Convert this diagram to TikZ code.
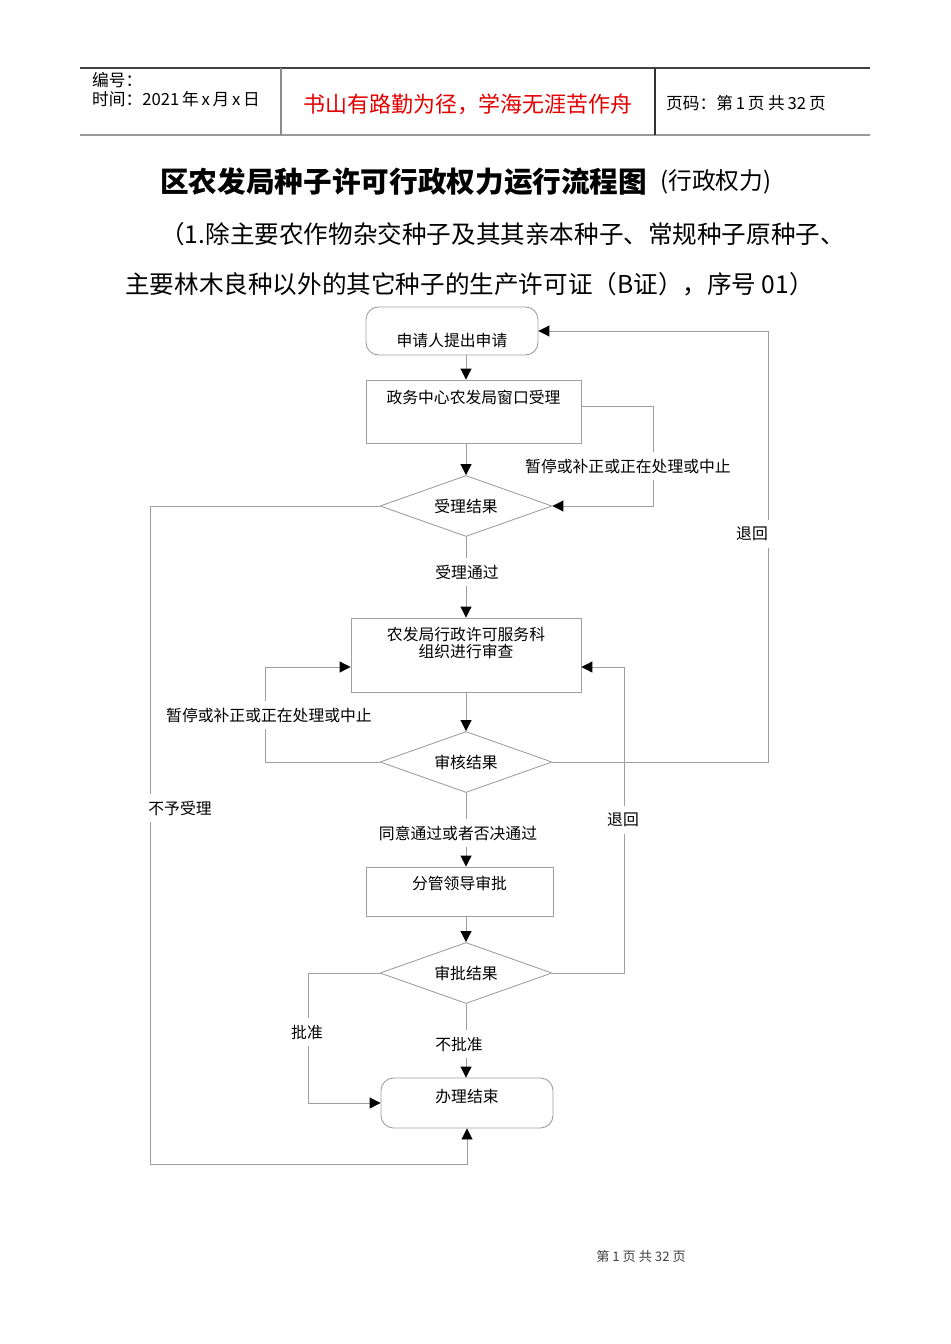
\documentclass[tikz,border=0pt]{standalone}
\usepackage{fontspec}
\setmainfont{Noto Sans CJK SC}
\usetikzlibrary{shapes.geometric,arrows.meta}
\definecolor{linegray}{gray}{0.62}
\definecolor{headred}{RGB}{228,0,0}
\tikzset{
  flow/.style={font=\fontsize{9}{10.2}\selectfont},
  head/.style={anchor=west, font=\fontsize{9.5}{11}\selectfont},
  proc/.style={draw=linegray, line width=0.5pt, inner sep=0pt},
  term/.style={proc, rounded corners=0.25cm},
  decide/.style={proc, flow, diamond, aspect=2.8, minimum width=3.44cm, minimum height=1.22cm},
  conn/.style={draw=linegray, line width=0.5pt},
  arr/.style={conn, -{Triangle[color=black,length=0.22cm,width=0.22cm]}},
  tag/.style={flow, fill=white, inner xsep=1pt, inner ysep=4pt},
}
\begin{document}
\begin{tikzpicture}[x=0.02cm, y=-0.02cm]
  \useasboundingbox (0,0) rectangle (950,1344);
  % === page header ===
  \draw[line width=0.8pt, black!75] (80,68) -- (870,68);
  \draw[line width=1.5pt, black!40] (80,135) -- (870,135);
  \draw[line width=0.8pt, black!45] (281,68) -- (281,135);
  \draw[line width=0.8pt, black!80] (655,68) -- (655,135);
  \node[head] (hnum) at (86,80) {编号：};
  \node[head] (hdate) at (86,99) {时间：2021\,年\,x\,月\,x\,日};
  \node[font=\fontsize{12.5}{14}\selectfont, text=headred] (hmotto) at (468,104) {书山有路勤为径，学海无涯苦作舟};
  \node[head] (hpage) at (660,103) {页码：第\,1\,页\ 共\,32\,页};
  % === title ===
  \node[anchor=west, font=\fontsize{16.3}{18}\selectfont\bfseries, inner sep=0pt] (title) at (160,182) {区农发局种子许可行政权力运行流程图};
  \node[anchor=west, font=\fontsize{13.5}{15}\selectfont, inner sep=0pt] (titlex) at (660,182) {(行政权力)};
  \node[anchor=west, font=\fontsize{14}{16}\selectfont, inner sep=0pt] (sub1) at (160,234) {（1.除主要农作物杂交种子及其其亲本种子、常规种子原种子、};
  \node[anchor=west, font=\fontsize{14}{16}\selectfont, inner sep=0pt] (sub2) at (125,284) {主要林木良种以外的其它种子的生产许可证（B证），序号 01）};
  % === flow nodes ===
  \node[term, minimum width=3.44cm, minimum height=0.96cm,
        label={[flow,yshift=-0.18cm]center:申请人提出申请}] (start) at (452,331) {};
  \node[proc, minimum width=4.3cm, minimum height=1.26cm,
        label={[flow,yshift=0.29cm]center:政务中心农发局窗口受理}] (win) at (473.5,411.5) {};
  \node[decide] (d1) at (466,506) {受理结果};
  \node[proc, minimum width=4.6cm, minimum height=1.48cm,
        label={[flow,align=center,yshift=0.24cm]center:农发局行政许可服务科\\组织进行审查}] (check) at (466,655) {};
  \node[decide] (d2) at (466,762) {审核结果};
  \node[proc, minimum width=3.74cm, minimum height=0.98cm,
        label={[flow,yshift=0.17cm]center:分管领导审批}] (lead) at (459.5,891.5) {};
  \node[decide] (d3) at (466,973) {审批结果};
  \node[term, minimum width=3.44cm, minimum height=1.0cm,
        label={[flow,yshift=0.12cm]center:办理结束}] (end) at (467,1103) {};
  % bend points
  \coordinate (rt1) at (653,506);
  \coordinate (lft) at (150,1164);
  \coordinate (lf2) at (265,667);
  \coordinate (rt2) at (768,331);
  \coordinate (rt3) at (624,667);
  \coordinate (lf3) at (308,1103);
  % === connectors ===
  \draw[arr] (start.south -| d1) -- (win.north -| d1);
  \draw[arr] (win.south -| d1) -- (d1.north);
  \draw[arr] ([yshift=0.11cm]win.east) -| (rt1) -- (d1.east);
  \draw[arr] (d1.south) -- (check.north -| d1);
  \draw[arr] (d1.west) -| (lft) -| (end.south);
  \draw[arr] (check.south -| d2) -- (d2.north);
  \draw[arr] (d2.west) -| (lf2) -- (check.west |- lf2);
  \draw[arr] (d2.east) -| (rt2) -- (start.east);
  \draw[arr] (d2.south) -- (lead.north -| d2);
  \draw[arr] (lead.south -| d3) -- (d3.north);
  \draw[arr] (d3.east) -| (rt3) -- (check.east |- rt3);
  \draw[arr] (d3.west) -| (lf3) -- (end.west);
  \draw[arr] (d3.south) -- (end.north -| d3);
  % === connector labels ===
  \node[tag] (tHold1) at (628,466) {暂停或补正或正在处理或中止};
  \node[tag] (tPass) at (467,572) {受理通过};
  \node[tag] (tRefuse) at (180,808) {不予受理};
  \node[tag] (tHold2) at (269,715) {暂停或补正或正在处理或中止};
  \node[tag] (tBack1) at (752,534) {退回};
  \node[tag] (tAgree) at (458,833) {同意通过或者否决通过};
  \node[tag] (tBack2) at (623,820) {退回};
  \node[tag] (tOk) at (307,1032) {批准};
  \node[tag] (tNo) at (459,1044) {不批准};
  % === footer ===
  \node[font=\fontsize{7.5}{9}\selectfont, text=black!75] (foot) at (641,1256) {第 1 页 共 32 页};
\end{tikzpicture}
\end{document}
